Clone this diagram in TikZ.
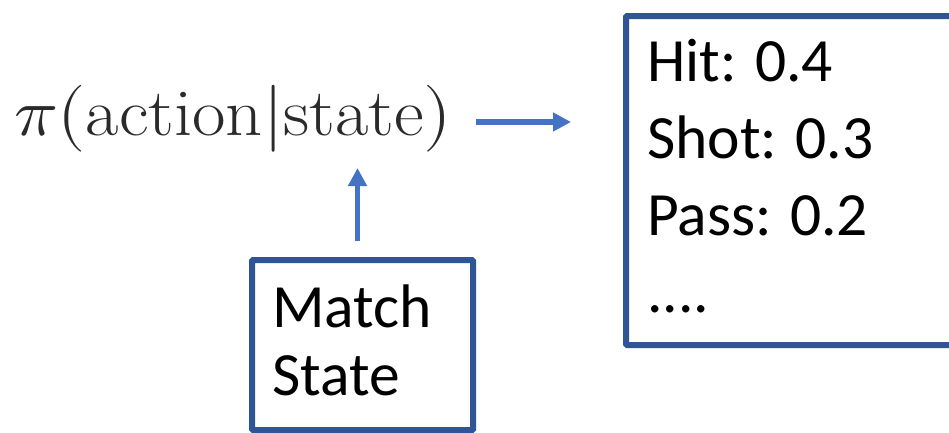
\documentclass[tikz,border=0pt]{standalone}
\usepackage{fontspec}
\setmainfont{Carlito}
\usepackage{unicode-math}
\setmathfont{Latin Modern Math}
\setmathrm{Latin Modern Roman}
\usetikzlibrary{arrows.meta,calc}
\definecolor{boxblue}{HTML}{2F5597}
\definecolor{arrowblue}{HTML}{4472C4}
\definecolor{formulagray}{HTML}{2A2A2A}
\tikzset{
  panel/.style={draw=boxblue, line width=6pt, rounded corners=1pt, inner sep=0pt},
  label/.style={inner sep=0pt, anchor=base west, align=left, font=\fontsize{61.5}{77}\selectfont},
  flow/.style={draw=arrowblue, line width=5.5pt, -{Triangle[length=18pt,width=18pt]}}
}
\begin{document}
\begin{tikzpicture}[x=1pt,y=-1pt]
\useasboundingbox (0,0) rectangle (949,432);
% policy expression, set a little wide
\node (policy) [inner sep=0pt, anchor=base west, text=formulagray,
  font=\fontsize{67}{67}\selectfont] at (14,135)
  {\scalebox{1.085}[1]{$\pi(\mathrm{action}|\mathrm{state})$}};
% output distribution box (base anchor sits on the last line)
\node (probs) [panel, anchor=north west, minimum width=345pt, minimum height=329pt] at (623,13) {};
\node (plist) [label] at (647,312) {Hit: 0.4\\Shot: 0.3\\Pass: 0.2\\....};
% input box
\node (match) [panel, anchor=north west, minimum width=221pt, minimum height=170pt] at (249,257) {};
\node (mtext) [label, font=\fontsize{61.5}{68}\selectfont] at (272,395) {Match\\State};
% connectors
\coordinate (upstart) at ($(match.north)+(-5,-16)$);
\coordinate (upend) at (upstart |- 0,168);
\draw[flow] (upstart) -- (upend);
\coordinate (rstart) at (476,122);
\coordinate (rend) at ($(probs.west |- rstart)+(-52,0)$);
\draw[flow] (rstart) -- (rend);
\end{tikzpicture}
\end{document}
